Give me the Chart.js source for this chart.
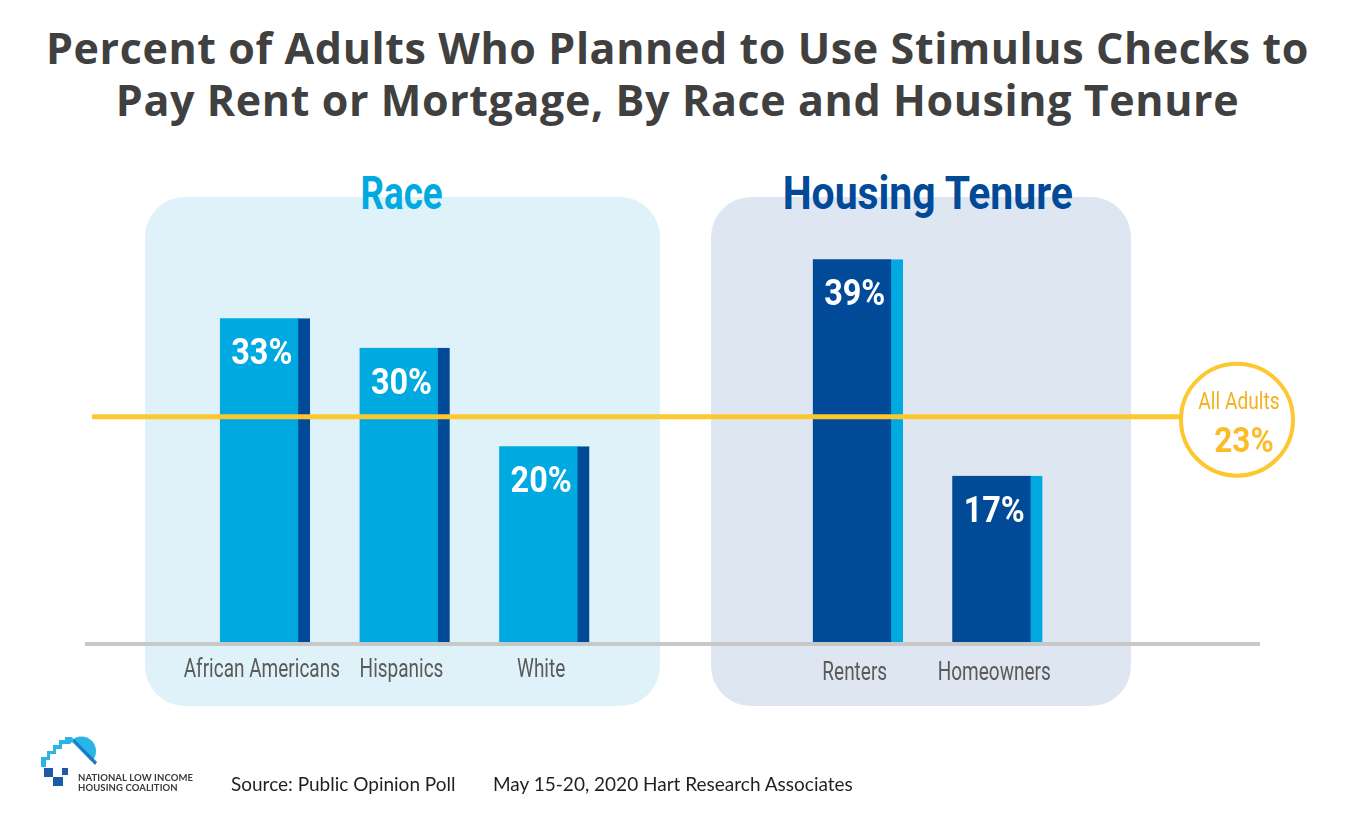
<!DOCTYPE html>
<html><head><meta charset="utf-8">
<script src="https://cdn.jsdelivr.net/npm/chart.js@4.4.1/dist/chart.umd.min.js"></script>
<style>
html,body{margin:0;padding:0;background:#fff;width:1355px;height:834px;overflow:hidden;position:relative}
.panel{position:absolute;top:197px;height:509px;border-radius:40px}
#p1{left:145px;width:515px;background:#dff2fa}
#p2{left:711px;width:420px;background:#dee7f1}
canvas{position:absolute;top:0}
#c1{left:0}
#c2{left:700px}
#title{position:absolute;left:0;width:1355px;top:22px;text-align:center;font-family:'Open Sans',sans-serif;font-weight:bold;font-size:43px;color:#404040;line-height:52px;white-space:nowrap;letter-spacing:0.6px}
.heading{position:absolute;top:169px;width:400px;text-align:center;font-family:Roboto,sans-serif;font-weight:bold;font-size:47px;line-height:47px;white-space:nowrap}
.heading span{display:inline-block;transform-origin:center}
#h1{left:202px;color:#00a9e0}
#h1 span{transform:scaleX(0.78)}
#h2{left:728px;color:#004a97}
#h2 span{transform:scaleX(0.87)}
.src{position:absolute;top:772px;font-family:Lato,sans-serif;font-size:19px;color:#231f20;white-space:nowrap;line-height:24px}
.logotxt{position:absolute;left:78px;font-family:Lato,sans-serif;font-weight:bold;font-size:9.5px;color:#3a3a3a;white-space:nowrap;line-height:11px;letter-spacing:0.1px}
#logo{position:absolute;left:0;top:0}
</style></head>
<body>
<div class="panel" id="p1"></div>
<div class="panel" id="p2"></div>
<div id="title">Percent of Adults Who Planned to Use Stimulus Checks to<br>Pay Rent or Mortgage, By Race and Housing Tenure</div>
<div class="heading" id="h1"><span>Race</span></div>
<div class="heading" id="h2"><span>Housing Tenure</span></div>
<canvas id="c1" width="700" height="834"></canvas>
<canvas id="c2" width="655" height="834"></canvas>
<svg id="logo" width="200" height="834" viewBox="0 0 200 834">
  <circle cx="81.5" cy="751" r="14.5" fill="#29b5e8"/>
  <polygon points="71,741 100,770 100,795 60,795 60,741" fill="#fff"/>
  <polygon points="71,739 74,739 97,762 95,765" fill="#1f78bd"/>
  <polygon points="41,767 41,757 47,757 47,751 53,751 53,745 59,745 59,740 65,740 65,737 72,737 74,740 70,744 62,744 62,749 56,749 56,754 50,754 50,760 46,760 46,767" fill="#29b5e8"/>
  <rect x="44" y="768" width="9" height="9" fill="#1c5aa5"/>
  <rect x="53" y="777" width="10" height="9" fill="#1c5aa5"/>
  <rect x="62" y="768" width="6" height="7" fill="#1c5aa5"/>
</svg>
<div class="logotxt" style="top:772px">NATIONAL LOW INCOME</div>
<div class="logotxt" style="top:782px">HOUSING COALITION</div>
<div class="src" style="left:231px">Source: Public Opinion Poll</div>
<div class="src" style="left:493px">May 15-20, 2020 Hart Research Associates</div>
<script>
// ---- data ----
const raceCategories = ['African Americans', 'Hispanics', 'White'];
const raceValues = [33, 30, 20];
const tenureCategories = ['Renters', 'Homeowners'];
const tenureValues = [39, 17];
const allAdultsLabel = 'All Adults';
const allAdultsValue = 23;
const yMin = 0, yMax = 50;

const LIGHT = '#00a9e0', DARK = '#004a97', YELLOW = '#fdc82f';
const FONT = "Roboto, 'Liberation Sans', sans-serif";

// condensed text (the original uses a condensed typeface)
function textC(ctx, txt, x, y, font, sx) {
  ctx.save();
  ctx.font = font;
  ctx.translate(x, y);
  ctx.scale(sx, 1);
  ctx.fillText(txt, 0, 0);
  ctx.restore();
}

function overlay(o) {
  return {
    id: 'overlay',
    afterDatasetsDraw(chart) {
      const ctx = chart.ctx, ys = chart.scales.y, xs = chart.scales.x;
      const y0 = ys.getPixelForValue(0);
      const yA = ys.getPixelForValue(allAdultsValue);
      ctx.save();
      ctx.textAlign = 'center'; ctx.textBaseline = 'alphabetic';
      // category labels from the category scale
      ctx.fillStyle = '#5a5a5a';
      chart.data.labels.forEach((lab, i) => {
        textC(ctx, lab, xs.getPixelForValue(i) - 3, y0 + o.labelDy, '25px ' + FONT, 0.76);
      });
      // baseline
      ctx.strokeStyle = '#c8c8c8'; ctx.lineWidth = 4;
      ctx.beginPath(); ctx.moveTo(o.baseFrom, y0 + 1); ctx.lineTo(o.baseTo, y0 + 1); ctx.stroke();
      // all adults line
      ctx.strokeStyle = YELLOW; ctx.lineWidth = 5;
      ctx.beginPath(); ctx.moveTo(o.lineFrom, yA); ctx.lineTo(o.lineTo, yA); ctx.stroke();
      // value labels
      const meta = chart.getDatasetMeta(0);
      ctx.fillStyle = '#fff';
      meta.data.forEach((bar, i) => {
        const v = chart.data.datasets[0].data[i];
        textC(ctx, v + '%', bar.x - 3, bar.y + 46, 'bold 36px ' + FONT, 0.9);
      });
      if (o.circle) {
        const cx = o.circle.x, cy = yA + 3, r = 56;
        ctx.beginPath(); ctx.arc(cx, cy, r, 0, Math.PI * 2);
        ctx.fillStyle = '#fff'; ctx.fill();
        ctx.strokeStyle = YELLOW; ctx.lineWidth = 4; ctx.stroke();
        ctx.fillStyle = '#f6b11e';
        textC(ctx, allAdultsLabel, cx + 2, cy - 11, '24px ' + FONT, 0.8);
        ctx.fillStyle = '#fbbc28';
        textC(ctx, allAdultsValue + '%', cx + 7, cy + 32, 'bold 35px ' + FONT, 0.9);
      }
      ctx.restore();
    }
  };
}

function makeChart(id, labels, values, bg, strip, o) {
  return new Chart(document.getElementById(id), {
    type: 'bar',
    data: { labels: labels, datasets: [{
      data: values, backgroundColor: bg, borderColor: strip,
      borderWidth: { left: 0, top: 0, bottom: 0, right: 12 }, borderSkipped: false,
      barThickness: 90 }] },
    options: {
      responsive: false, animation: false, devicePixelRatio: 1,
      layout: { padding: { left: o.padL, right: o.padR, top: 151, bottom: 191 } },
      plugins: { legend: { display: false }, tooltip: { enabled: false } },
      scales: {
        x: { display: false },
        y: { display: false, min: yMin, max: yMax }
      }
    },
    plugins: [overlay(o)]
  });
}

makeChart('c1', raceCategories, raceValues, LIGHT, DARK,
  { padL: 195, padR: 86, labelDy: 34, baseFrom: 85, baseTo: 700, lineFrom: 92, lineTo: 700 });
makeChart('c2', tenureCategories, tenureValues, DARK, LIGHT,
  { padL: 88, padR: 288, labelDy: 37, baseFrom: 0, baseTo: 560, lineFrom: 0, lineTo: 537, circle: { x: 537 } });
</script>
</body></html>
